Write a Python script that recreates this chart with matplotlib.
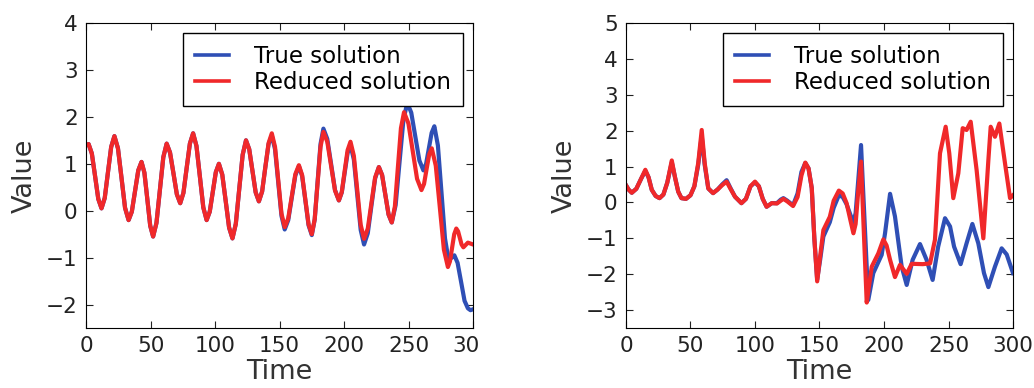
import matplotlib
matplotlib.use('Agg')
import matplotlib.pyplot as plt
from matplotlib.transforms import Bbox, TransformedBbox


# left panel
left_time_true = [
    0, 2, 4.5, 7, 9.5, 12, 14.5, 17, 19.5, 22, 24.75, 27.5, 30.25, 33,
    35.5, 38, 40.5, 43, 45.25, 47.5, 49.75, 52, 54.6, 57.25, 59.9, 62.5,
    65.1, 67.75, 70.4, 73, 75.5, 78, 80.5, 83, 85.6, 88.25, 90.9, 93.5,
    95.9, 98.25, 100.6, 103, 105.6, 108.25, 110.9, 113.5, 116.1, 118.75,
    121.4, 124, 126.5, 129, 131.5, 134, 136.5, 139, 141.5, 144, 146.5, 149,
    151.5, 154, 156.75, 159.5, 162.25, 165, 167.5, 170, 172.5, 175, 177.25,
    179.5, 181.75, 184, 187, 190, 193, 196, 198.25, 200.5, 202.75, 205,
    207.6, 210.25, 212.9, 215.5, 218.4, 221.25, 224.1, 227, 229.5, 232,
    234.5, 237, 240, 243, 246, 249, 252.1, 255.25, 258.4, 261.5, 263.6,
    265.75, 267.9, 270, 272.75, 275.5, 278.25, 281, 282, 283.5, 285.5, 288,
    290.75, 293.4, 296, 298, 300]
left_true = [
    1.40, 1.42, 1.22, 0.74, 0.25, 0.05, 0.27, 0.82, 1.36, 1.59, 1.33, 0.70,
    0.06, -0.20, -0.02, 0.42, 0.86, 1.04, 0.81, 0.25, -0.32, -0.55, -0.26,
    0.44, 1.14, 1.43, 1.24, 0.80, 0.35, 0.16, 0.38, 0.91, 1.43, 1.65, 1.38,
    0.73, 0.07, -0.20, -0.02, 0.40, 0.82, 1.00, 0.77, 0.21, -0.36, -0.59,
    -0.28, 0.46, 1.19, 1.50, 1.31, 0.85, 0.39, 0.20, 0.41, 0.93, 1.42, 1.60,
    1.31, 0.60, -0.11, -0.40, -0.20, 0.28, 0.75, 0.95, 0.74, 0.22, -0.31,
    -0.52, -0.19, 0.62, 1.42, 1.75, 1.53, 0.99, 0.44, 0.22, 0.39, 0.81, 1.23,
    1.40, 1.09, 0.34, -0.41, -0.72, -0.48, 0.11, 0.69, 0.93, 0.76, 0.34,
    -0.08, -0.25, 0.12, 1.03, 1.93, 2.30, 2.09, 1.58, 1.07, 0.86, 1.00, 1.33,
    1.66, 1.80, 1.39, 0.40, -0.59, -1.05, -1.03, -1.00, -0.95, -1.11, -1.52,
    -1.92, -2.08, -2.12, -2.10]

left_time_red = [
    0, 2, 4.5, 7, 9.5, 12, 14.5, 17, 19.5, 22, 24.75, 27.5, 30.25, 33,
    35.5, 38, 40.5, 43, 45.25, 47.5, 49.75, 52, 54.6, 57.25, 59.9, 62.5,
    65.1, 67.75, 70.4, 73, 75.5, 78, 80.5, 83, 85.6, 88.25, 90.9, 93.5,
    95.9, 98.25, 100.6, 103, 105.6, 108.25, 110.9, 113.5, 116.1, 118.75,
    121.4, 124, 126.5, 129, 131.5, 134, 136.5, 139, 141.5, 144, 146.5, 149,
    151.5, 154, 156.75, 159.5, 162.25, 165, 167.5, 170, 172.5, 175, 177.25,
    179.5, 181.75, 184, 187, 190, 193, 196, 198.25, 200.5, 202.75, 205,
    207.6, 210.25, 212.9, 215.5, 218.4, 221.25, 224.1, 227, 229.5, 232,
    234.5, 237, 239.4, 241.75, 244.1, 246.5, 249.9, 253.25, 256.6, 260, 262,
    264, 266, 268, 271.1, 274.25, 277.4, 280.5, 282.1, 283.75, 285.4, 287,
    288.4, 289.75, 291.1, 292.5, 296, 300]
left_red = [
    1.40, 1.42, 1.22, 0.74, 0.25, 0.05, 0.27, 0.82, 1.36, 1.59, 1.33, 0.70,
    0.06, -0.20, -0.02, 0.42, 0.86, 1.04, 0.81, 0.25, -0.32, -0.55, -0.26,
    0.44, 1.14, 1.43, 1.24, 0.80, 0.35, 0.16, 0.38, 0.91, 1.43, 1.65, 1.38,
    0.73, 0.07, -0.20, -0.02, 0.40, 0.82, 1.00, 0.77, 0.21, -0.36, -0.59,
    -0.28, 0.46, 1.19, 1.50, 1.31, 0.85, 0.39, 0.20, 0.41, 0.93, 1.44, 1.65,
    1.36, 0.65, -0.06, -0.35, -0.16, 0.31, 0.78, 0.97, 0.76, 0.24, -0.29,
    -0.50, -0.18, 0.59, 1.36, 1.68, 1.47, 0.95, 0.43, 0.22, 0.40, 0.85, 1.29,
    1.47, 1.17, 0.44, -0.30, -0.60, -0.38, 0.17, 0.71, 0.93, 0.76, 0.34,
    -0.08, -0.25, 0.09, 0.93, 1.76, 2.10, 1.86, 1.27, 0.68, 0.44, 0.57, 0.89,
    1.20, 1.33, 0.96, 0.07, -0.83, -1.20, -1.08, -0.79, -0.50, -0.38, -0.44,
    -0.58, -0.72, -0.78, -0.68, -0.72]

# right panel
right_time_true = [
    0, 2, 4.5, 8, 12, 15, 17.5, 20, 23, 26, 29, 32, 35.5, 38, 40.5, 43,
    46.5, 50, 53, 56, 58.7, 61, 63.8, 67.5, 71, 74.5, 78, 81, 84.5, 89.5,
    93, 96.5, 100, 103, 106, 109, 113, 117, 120, 122, 125, 129.5, 133, 136,
    139, 141.5, 144, 146, 148.2, 150.5, 153, 158, 161, 165, 168, 171, 174,
    176.3, 178, 180, 182.2, 184, 187.8, 191.7, 198.2, 200.8, 204.7, 208.5,
    213.7, 217.6, 222.2, 227.9, 233, 237.7, 242, 247.3, 251.2, 254.3, 259.4,
    264, 268.5, 273.1, 277.5, 280.9, 286, 291.2, 295.1, 300]
right_true = [
    0.48, 0.36, 0.27, 0.38, 0.68, 0.88, 0.70, 0.35, 0.18, 0.12, 0.22, 0.55,
    1.12, 0.70, 0.30, 0.12, 0.10, 0.20, 0.45, 1.05, 1.85, 1.05, 0.39, 0.26,
    0.36, 0.50, 0.62, 0.40, 0.16, -0.02, 0.10, 0.45, 0.56, 0.45, 0.10, -0.12,
    -0.02, -0.02, 0.08, 0.12, 0.05, -0.08, 0.25, 0.85, 1.10, 0.95, 0.40,
    -1.00, -2.15, -1.60, -0.95, -0.55, -0.15, 0.20, 0.15, -0.05, -0.35,
    -0.55, -0.30, 0.60, 1.60, 0.20, -2.72, -1.97, -1.46, -0.86, 0.24, -0.39,
    -1.79, -2.30, -1.60, -1.16, -1.60, -2.16, -1.23, -0.44, -0.67, -1.23,
    -1.72, -1.14, -0.60, -1.14, -1.97, -2.36, -1.79, -1.28, -1.45, -1.97]

right_time_red = [
    0, 2, 4.5, 8, 12, 15, 17.5, 20, 23, 26, 29, 32, 35.5, 38, 40.5, 43,
    46.5, 50, 53, 56, 58.7, 61, 63.8, 67.5, 71, 74.5, 78, 81, 84.5, 89.5,
    93, 96.5, 100, 103, 106, 109, 113, 117, 120, 122, 125, 129.5, 133, 136,
    139, 141.5, 144, 146, 148.2, 150.5, 153, 158, 161, 165, 168, 171, 174,
    176.3, 178, 180, 182.2, 184, 186.6, 188.5, 190.5, 195.6, 199.5, 202,
    204.7, 208.5, 212.4, 217.6, 221.5, 230, 235.7, 239.5, 243.4, 247.8,
    250.6, 253.7, 257.6, 261, 264, 267.2, 271.8, 277, 280.9, 282.7, 286,
    289.4, 293.8, 297.7, 300]
right_red = [
    0.48, 0.36, 0.27, 0.38, 0.68, 0.91, 0.70, 0.35, 0.18, 0.12, 0.22, 0.55,
    1.17, 0.70, 0.30, 0.12, 0.10, 0.20, 0.45, 1.10, 2.02, 1.10, 0.39, 0.26,
    0.36, 0.48, 0.58, 0.38, 0.16, -0.02, 0.10, 0.45, 0.58, 0.45, 0.10, -0.12,
    -0.02, -0.03, 0.05, 0.10, 0.03, -0.10, 0.15, 0.75, 1.11, 0.95, 0.40,
    -1.00, -2.20, -1.50, -0.77, -0.40, 0.05, 0.33, 0.25, -0.02, -0.50,
    -0.86, -0.60, 0.30, 1.14, -0.50, -2.79, -2.30, -1.79, -1.42, -1.03,
    -1.20, -1.60, -2.08, -1.74, -1.99, -1.71, -1.72, -1.70, -1.04, 1.37,
    2.11, 1.37, 0.12, 0.81, 2.07, 2.02, 2.25, 0.90, -1.00, 1.18, 2.11, 1.83,
    2.20, 1.09, 0.12, 0.20]

x_ticks = [0, 50, 100, 150, 200, 250, 300]
left_y_ticks = [-2, -1, 0, 1, 2, 3, 4]
right_y_ticks = [-3, -2, -1, 0, 1, 2, 3, 4, 5]

BLUE = '#2f4fb5'
RED = '#f0282a'


def draw_panel(ax, t_true, v_true, t_red, v_red, ylim, yticks):
    """Draw one true/reduced comparison panel"""
    ax.plot(t_true, v_true, color=BLUE, lw=3.0, label='True solution',
            solid_joinstyle='round')
    ax.plot(t_red, v_red, color=RED, lw=3.0, label='Reduced solution',
            solid_joinstyle='round')
    ax.set_xlim(0, 300)
    ax.set_ylim(*ylim)
    ax.set_xticks(x_ticks)
    ax.set_yticks(yticks)
    ax.tick_params(direction='in', top=True, right=True, length=5,
                   labelsize=15.5, pad=6, colors='#222222')
    ax.set_xlabel('Time', fontsize=19.5, color='#333333', labelpad=2)
    ax.set_ylabel('Value', fontsize=19.5, color='#333333', labelpad=6)
    leg = ax.legend(loc='upper right', fontsize=16.5, fancybox=False,
                    edgecolor='black', framealpha=1, handlelength=1.5,
                    handletextpad=1.1, borderpad=0.5, labelspacing=0.15,
                    borderaxespad=0.45)
    leg.get_frame().set_linewidth(1.0)
    for line in leg.get_lines():
        line.set_linewidth(2.6)


def main():
    fig = plt.figure(figsize=(10.34, 3.88), dpi=100)
    ax1 = fig.add_axes([0.0832, 0.1546, 0.3743, 0.786])
    ax2 = fig.add_axes([0.6054, 0.1546, 0.3743, 0.786])
    draw_panel(ax1, left_time_true, left_true, left_time_red, left_red,
               (-2.5, 4), left_y_ticks)
    draw_panel(ax2, right_time_true, right_true, right_time_red, right_red,
               (-3.5, 5), right_y_ticks)

    # the left picture was cropped just past its last tick label
    crop = TransformedBbox(Bbox([[0, 0], [480 / 1034, 1]]), fig.transFigure)
    for tick in ax1.xaxis.get_major_ticks():
        tick.label1.set_clip_box(crop)
        tick.label1.set_clip_on(True)

    fig.savefig('out.png', dpi=100, facecolor='white')


if __name__ == "__main__":
    main()
